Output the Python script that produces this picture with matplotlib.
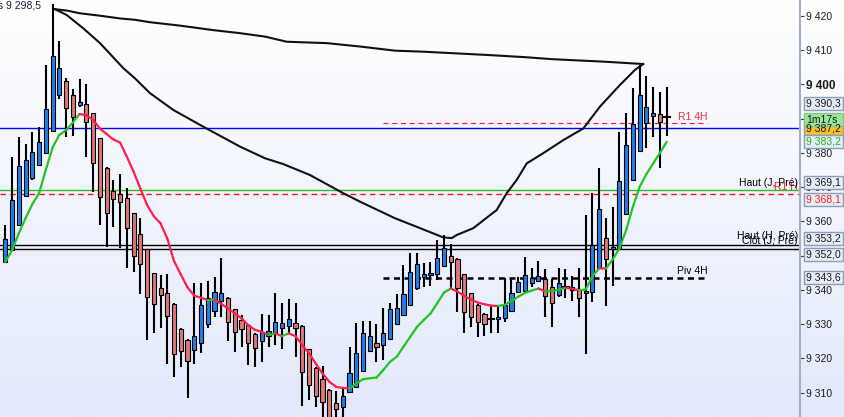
import numpy as np
import matplotlib
matplotlib.use("Agg")
import matplotlib.pyplot as plt
from matplotlib.collections import LineCollection
from matplotlib.patches import Rectangle
import matplotlib.transforms as mtransforms

plt.rcParams['font.family'] = ['Liberation Sans', 'DejaVu Sans']

# ---------------- data ----------------
opens = [9348.0, 9351.6, 9358.8, 9367.4, 9372.5, 9376.4, 9379.8, 9386.4, 9397.0, 9400.9,
         9396.8, 9393.8, 9394.1, 9391.5, 9384.2, 9375.7, 9368.9, 9367.9, 9366.7, 9362.3,
         9356.2, 9351.8, 9344.8, 9340.4, 9339.2, 9335.9, 9328.6, 9325.4, 9322.4, 9324.4,
         9330.0, 9333.8, 9336.7, 9337.7, 9334.3, 9331.2, 9329.7, 9327.1, 9325.2, 9326.5,
         9327.5, 9329.0, 9329.5, 9330.4, 9329.5, 9322.6, 9317.3, 9313.9, 9310.8, 9306.9,
         9305.9, 9310.1, 9311.6, 9316.4, 9322.1, 9324.4, 9323.9, 9325.6, 9330.0, 9332.6,
         9335.6, 9340.4, 9343.8, 9344.2, 9344.5, 9346.9, 9349.9, 9349.0, 9344.5, 9339.0,
         9335.6, 9333.1, 9331.4, 9331.4, 9331.7, 9333.8, 9339.3, 9339.6, 9341.9, 9342.7,
         9343.3, 9340.9, 9338.6, 9340.7, 9340.7, 9340.1, 9339.0, 9339.3, 9346.3, 9355.0,
         9351.9, 9352.1, 9362.1, 9372.2, 9380.4, 9388.6, 9390.8, 9391.2, 9390.3]
highs = [9358.8, 9378.9, 9384.7, 9382.6, 9386.1, 9387.6, 9405.6, 9423.4, 9412.6, 9401.7,
         9398.5, 9401.5, 9400.1, 9391.7, 9384.4, 9375.9, 9372.0, 9373.8, 9369.6, 9362.5,
         9360.9, 9352.0, 9345.0, 9344.2, 9344.6, 9336.1, 9328.8, 9325.8, 9341.9, 9341.9,
         9342.6, 9343.8, 9349.4, 9337.9, 9334.5, 9332.6, 9329.9, 9327.3, 9333.1, 9332.6,
         9339.0, 9336.1, 9337.2, 9336.3, 9329.7, 9322.8, 9317.5, 9317.8, 9311.0, 9310.6,
         9311.7, 9323.4, 9330.2, 9331.0, 9331.0, 9330.0, 9334.6, 9336.1, 9338.8, 9347.2,
         9350.9, 9350.8, 9347.7, 9348.1, 9354.5, 9355.9, 9353.3, 9349.2, 9344.7, 9339.2,
         9335.8, 9333.3, 9335.3, 9335.3, 9343.6, 9343.6, 9343.8, 9349.5, 9346.3, 9348.5,
         9346.0, 9343.3, 9346.3, 9346.0, 9344.0, 9346.3, 9361.8, 9368.4, 9375.5, 9360.9,
         9364.3, 9386.0, 9391.5, 9398.8, 9405.6, 9402.4, 9399.1, 9397.6, 9399.1]
lows = [9347.7, 9351.4, 9358.6, 9367.2, 9372.0, 9376.2, 9379.6, 9386.2, 9395.8, 9384.5,
        9384.9, 9393.4, 9378.7, 9368.6, 9358.8, 9352.4, 9358.4, 9352.1, 9346.3, 9345.3,
        9338.8, 9325.5, 9327.3, 9328.8, 9318.3, 9314.5, 9317.4, 9308.3, 9318.3, 9321.5,
        9328.8, 9332.2, 9332.0, 9325.2, 9321.8, 9323.2, 9318.1, 9317.4, 9319.0, 9323.4,
        9323.9, 9322.6, 9327.3, 9320.3, 9306.1, 9307.8, 9305.7, 9301.5, 9299.1, 9300.5,
        9301.5, 9309.8, 9311.3, 9316.3, 9321.9, 9319.0, 9319.5, 9325.4, 9329.7, 9332.4,
        9335.3, 9340.1, 9340.9, 9341.2, 9342.9, 9346.8, 9340.4, 9333.6, 9327.5, 9329.2,
        9326.1, 9326.5, 9327.3, 9327.5, 9330.5, 9333.6, 9339.0, 9339.3, 9340.7, 9342.4,
        9332.2, 9329.2, 9338.0, 9337.5, 9336.7, 9332.0, 9321.2, 9336.4, 9346.0, 9335.3,
        9341.1, 9351.9, 9361.8, 9372.0, 9380.3, 9381.5, 9384.5, 9375.6, 9384.9]
closes = [9354.7, 9366.2, 9376.1, 9377.9, 9380.1, 9383.0, 9392.8, 9408.2, 9404.6, 9393.0,
          9390.5, 9394.7, 9388.9, 9376.9, 9367.2, 9362.3, 9366.4, 9365.6, 9358.1, 9349.9,
          9347.5, 9338.0, 9335.9, 9338.5, 9332.4, 9321.3, 9322.1, 9319.2, 9326.5, 9335.6,
          9337.5, 9339.5, 9339.2, 9330.5, 9327.6, 9328.5, 9324.4, 9322.9, 9327.6, 9328.1,
          9330.7, 9330.2, 9331.4, 9328.8, 9315.9, 9312.2, 9309.0, 9307.2, 9301.5, 9305.3,
          9309.1, 9315.6, 9321.5, 9327.3, 9326.6, 9323.2, 9327.3, 9334.3, 9334.6, 9338.7,
          9345.1, 9347.4, 9344.5, 9344.8, 9349.2, 9352.3, 9348.0, 9340.4, 9333.6, 9332.0,
          9330.5, 9330.0, 9331.4, 9332.0, 9335.6, 9339.2, 9342.4, 9344.3, 9343.6, 9344.0,
          9338.3, 9336.3, 9341.9, 9340.7, 9340.1, 9337.7, 9339.6, 9353.1, 9363.5, 9349.0,
          9352.4, 9371.9, 9382.2, 9388.3, 9396.8, 9393.3, 9391.5, 9389.1, 9390.3]
ma_values = [9348.1, 9351.6, 9356.5, 9360.9, 9365.0, 9368.2, 9375.0, 9381.5, 9385.2, 9386.6,
             9388.8, 9391.3, 9391.0, 9389.6, 9387.1, 9385.5, 9383.9, 9383.0, 9378.9, 9374.5,
             9369.6, 9364.8, 9361.5, 9359.4, 9355.0, 9348.4, 9344.5, 9340.7, 9338.3, 9337.7,
             9337.0, 9337.2, 9335.9, 9334.6, 9333.1, 9331.7, 9329.7, 9328.3, 9327.8, 9326.8,
             9327.3, 9326.5, 9327.3, 9326.5, 9323.9, 9321.5, 9318.5, 9315.6, 9313.2, 9311.7,
             9311.4, 9311.2, 9312.7, 9313.9, 9314.2, 9314.4, 9316.6, 9319.0, 9320.5, 9323.4,
             9326.3, 9329.2, 9331.2, 9333.1, 9336.1, 9339.2, 9340.4, 9339.5, 9338.2, 9337.2,
             9336.3, 9335.8, 9335.4, 9335.3, 9335.6, 9336.8, 9338.0, 9339.1, 9339.8, 9340.4,
             9339.5, 9339.6, 9340.1, 9340.6, 9340.3, 9339.9, 9340.1, 9344.0, 9346.3, 9346.2,
             9348.9, 9352.1, 9357.5, 9364.3, 9370.1, 9373.8, 9376.9, 9380.0, 9383.2]

# hand-drawn cup shape (bar position, price)
cup_upper_x = [8.36, 10.10, 12.07, 15.03, 17.99, 20.22, 22.44, 26.89, 31.78, 35.78, 39.48,
               42.70, 48.62, 53.59, 58.74, 62.89, 72.82, 78.0, 82.15, 89.56, 95.49]
cup_upper_y = [9421.9, 9421.5, 9420.7, 9420.0, 9419.2, 9418.8, 9418.1, 9417.1, 9415.8, 9414.9,
               9413.9, 9412.4, 9412.0, 9411.0, 9409.8, 9409.5, 9408.5, 9407.9, 9407.3, 9406.6, 9405.9]
cup_lower_x = [8.36, 10.10, 12.56, 15.03, 18.48, 20.22, 22.44, 25.89, 30.34, 35.78, 39.48,
               42.19, 46.15, 51.08, 53.59, 58.74, 61.96, 65.90, 67.14, 67.88, 70.34, 73.81,
               75.29, 76.78, 78.26, 80.72, 83.68, 86.65, 89.12, 92.08, 94.31, 95.53]
cup_lower_y = [9421.9, 9420.2, 9416.3, 9412.0, 9404.7, 9401.7, 9397.4, 9392.5, 9387.6, 9381.8,
               9378.4, 9376.7, 9373.5, 9368.2, 9365.7, 9360.9, 9358.4, 9355.3, 9355.1, 9356.0,
               9358.0, 9363.3, 9368.2, 9372.1, 9376.9, 9379.9, 9383.7, 9387.1, 9393.5, 9399.8,
               9404.2, 9405.9]

bid_line = 9387.2
haut_j = 9369.1
r1_h = 9368.1
haut_h = 9353.2
clot_j = 9352.0
r1_4h = 9388.6
piv_4h = 9343.6
last_price = 9390.3
ma_last = 9383.2
level_start, level_end = 57, 105
y_ticks = list(range(9310, 9421, 10))

# ---------------- figure ----------------
W, H = 845, 417
fig = plt.figure(figsize=(W / 100, H / 100), dpi=100)

bg = fig.add_axes([0, 0, 1, 1], zorder=-10)
top = np.array([255, 255, 255]) / 255
bot = np.array([226, 233, 251]) / 255
t = np.linspace(0, 1, 256)[:, None]
grad = (top[None, :] * (1 - t) + bot[None, :] * t)[:, None, :]
bg.imshow(grad, aspect='auto', extent=[0, 1, 0, 1], origin='upper')
bg.axis('off')

ax = fig.add_axes([0, 0, 800 / W, 1])
ax.set_facecolor('none')
ax.set_xlim(0.215, 118.75)
ax.set_ylim(9302.9, 9424.58)

n = len(opens)
xs = np.arange(1, n + 1)

# horizontal levels
ax.axhline(bid_line, color='#0000ff', lw=1.0, zorder=1)
ax.axhline(haut_j, color='#2eb82e', lw=1.0, zorder=1)
ax.axhline(r1_h, color='#ff1010', lw=1.0, dashes=(4, 3), zorder=1)
ax.axhline(haut_h, color='black', lw=1.0, zorder=1)
ax.axhline(clot_j, color='black', lw=1.0, zorder=1)
ax.plot([level_start, level_end], [r1_4h, r1_4h], color='#ff2020', lw=0.9, dashes=(4, 3), zorder=1)
ax.plot([level_start, level_end], [piv_4h, piv_4h], color='black', lw=1.8, dashes=(2.4, 1.8), zorder=1)

# cup drawing
ax.plot(cup_upper_x, cup_upper_y, color='#111111', lw=1.5, zorder=2)
ax.plot(cup_lower_x, cup_lower_y, color='#111111', lw=1.5, zorder=2)

# candles
ax.vlines(xs, lows, highs, color='black', lw=1.5, zorder=3)
bw = 0.6
for x, o, h, l, c in zip(xs, opens, highs, lows, closes):
    if abs(c - o) < 0.05:
        ax.plot([x - 0.45, x + 0.45], [c, c], color='black', lw=1.5, zorder=4)
        continue
    col = '#1f80ec' if c > o else '#e07676'
    ax.add_patch(Rectangle((x - bw / 2, min(o, c)), bw, abs(c - o), facecolor=col,
                           edgecolor='black', lw=0.8, zorder=4))

# moving average, coloured by slope
pts = np.column_stack([xs, ma_values])
segs = np.stack([pts[:-1], pts[1:]], axis=1)
cols = ['#22c422' if ma_values[i + 1] >= ma_values[i] else '#ff1e4e' for i in range(n - 1)]
ax.add_collection(LineCollection(segs, colors=cols, linewidths=1.6, zorder=5,
                                 capstyle='round', joinstyle='round'))

# on-chart labels
ax.text(100.6, r1_4h + 0.4, 'R1 4H', color='#e83030', fontsize=7.5, ha='left', va='bottom', zorder=6)
ax.text(100.5, piv_4h + 0.5, 'Piv 4H', color='black', fontsize=7.5, ha='left', va='bottom', zorder=6)
trans = mtransforms.blended_transform_factory(ax.transAxes, ax.transData)
ax.text(0.9975, 9370.0, 'R1 H', color='#ff2020', fontsize=7.5, ha='right', va='center',
        transform=trans, zorder=6)
ax.text(0.9975, 9371.3, 'Haut (J, Pré)', color='black', fontsize=7.5, ha='right', va='center',
        transform=trans, zorder=6)
ax.text(0.997, 9354.3, 'Clôt (J, Pré)', color='black', fontsize=7.5, ha='right', va='center',
        transform=trans, zorder=6)
ax.text(0.9975, 9355.7, 'Haut (H, Pré)', color='black', fontsize=7.5, ha='right', va='center',
        transform=trans, zorder=6)

# right axis
for s in ['top', 'left', 'bottom']:
    ax.spines[s].set_visible(False)
ax.spines['right'].set_color('#9fb0c8')
ax.spines['right'].set_linewidth(1.5)
ax.set_xticks([])
ax.yaxis.tick_right()
ax.set_yticks(y_ticks)
ax.set_yticklabels([f"{v:,}".replace(",", " ") for v in y_ticks])
ax.tick_params(axis='y', length=3.2, width=0.8, color='#404040', pad=1.2,
               labelsize=7.5, labelcolor='#1a1a1a')
for lbl in ax.get_yticklabels():
    if lbl.get_text() == '9 400':
        lbl.set_fontweight('bold')
        lbl.set_fontsize(8.5)

# value boxes on the price scale
def price_to_px(p):
    return H - ax.transData.transform((0, p))[1] * 1.0

def box(text, price, dy, face, fg, edge='#8d9db5'):
    yc = price_to_px(price) + dy
    x0, x1, hh = 804.5, 843.5, 13
    fig.add_artist(Rectangle((x0 / W, 1 - (yc + hh / 2) / H), (x1 - x0) / W, hh / H,
                             transform=fig.transFigure, facecolor=face, edgecolor=edge,
                             lw=1.0, zorder=20))
    fig.text((x0 + 2) / W, 1 - yc / H, text, color=fg, fontsize=7.5, ha='left', va='center',
             zorder=21)

box('9 390,3', last_price, -13.5, '#e6ecf6', '#1a1a1a')
box('9 387,2', bid_line, 0, '#f7c12a', '#1a1a1a')
box('1m17s', bid_line, -8.5, '#98e898', '#1a1a1a', edge='#8fbf8f')
box('9 383,2', ma_last, 0, '#e6ecf6', '#22b822')
box('9 369,1', haut_j, -8, '#e6ecf6', '#1a1a1a')
box('9 368,1', r1_h, 5.5, '#e6ecf6', '#ff2020')
box('9 353,2', haut_h, -6.3, '#e6ecf6', '#1a1a1a')
box('9 352,0', clot_j, 5.3, '#e6ecf6', '#1a1a1a')
box('9 343,6', piv_4h, 0, '#e6ecf6', '#1a1a1a')

fig.text(41 / W, 1 - 6 / H, 'ts 9 298,5', color='#1c1c3c', fontsize=7.5, ha='right', va='center')

fig.savefig('out.png', dpi=100)
